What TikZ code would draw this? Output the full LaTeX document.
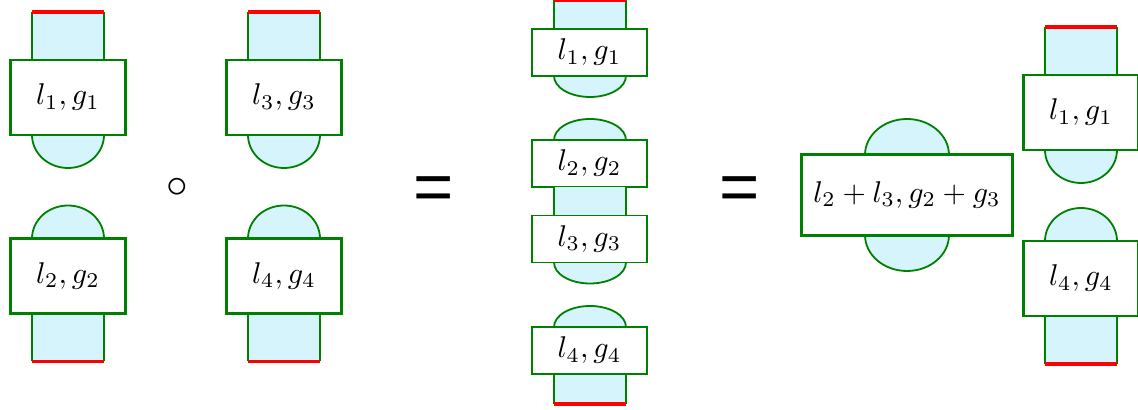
\documentclass[tikz,border=0pt]{standalone}
\usepackage{fontspec}
\newfontfamily\eqfont{Liberation Sans}
\definecolor{boxgreen}{RGB}{0,128,0}
\definecolor{stemcyan}{RGB}{213,244,252}
\def\px{0.3333pt}
% x/y/name/index/side (1: stem below, -1: stem above)
\def\tlist{{68/97.5/b1/1/-1}, {68/276/b2/2/1}, {284/97.5/b3/3/-1}, {284/276/b4/4/1}, {1081/112.5/r1/1/-1}, {1081/278.5/r4/4/1}}
% y/name/index/side/stem length/end colour
\def\mlist{{52.5/m1/1/-1/29/red}, {163.5/m2/2/1/28.5/none}, {239/m3/3/-1/28.5/none}, {350.5/m4/4/1/30/red}}
\tikzstyle{tallbox}=[draw=boxgreen, line width=0.8pt, fill=white, minimum width=38.33pt, minimum height=25pt, inner sep=0pt]
\tikzstyle{midbox}=[tallbox, line width=0.65pt, minimum height=15.67pt]
\tikzstyle{bigbox}=[tallbox, line width=1pt, minimum width=70pt, minimum height=26.67pt]
\tikzstyle{stemfill}=[fill=stemcyan]
\tikzstyle{stemside}=[draw=boxgreen, line width=0.6pt]
\tikzstyle{stemend}=[line width=1.2pt]
\tikzstyle{disc}=[fill=stemcyan, draw=boxgreen, line width=0.6pt]
\tikzstyle{eqsign}=[font=\eqfont\fontsize{23}{28}\selectfont, inner sep=0pt]

\begin{document}
\begin{tikzpicture}[x=\px, y=-\px]
  \useasboundingbox (0,0) rectangle (1138,410);

  \foreach \x/\y/\name/\i/\d in \tlist {
    \begin{scope}[shift={(\x,\y)}, yscale=\d]
      \fill[stemfill] (-36,37.5) rectangle (36,85.5);
      \draw[stemside] (-36,37.5) -- (-36,85.5) (36,37.5) -- (36,85.5);
      \draw[stemend, draw=red] (-36,85.5) -- (36,85.5);
      \filldraw[disc] (-36,-37.5) arc[start angle=180, end angle=360, x radius=36, y radius=33];
    \end{scope}
    \node[tallbox] (\name) at (\x,\y) {$l_{\i},g_{\i}$};
  }

  \foreach \y/\name/\i/\d/\len/\e in \mlist {
    \begin{scope}[shift={(590,\y)}, yscale=\d]
      \fill[stemfill] (-36,23.5) rectangle (36,23.5+\len);
      \draw[stemside] (-36,23.5) -- (-36,23.5+\len) (36,23.5) -- (36,23.5+\len);
      \draw[stemend, draw=\e] (-36,23.5+\len) -- (36,23.5+\len);
      \filldraw[disc] (-36,-23.5) arc[start angle=180, end angle=360, x radius=36, y radius=21];
    \end{scope}
    \node[midbox] (\name) at (589.5,\y) {$l_{\i},g_{\i}$};
  }

  \filldraw[disc] (865,155) arc[start angle=180, end angle=360, x radius=42, y radius=36];
  \filldraw[disc] (865,235) arc[start angle=180, end angle=0, x radius=42, y radius=36];
  \node[bigbox] (sum) at (907,195) {$l_2+l_3,g_2+g_3$};

  \node[font=\Large] (circ) at (177,188) {$\circ$};
  \node[eqsign] (eq1) at (433.5,194) {=};
  \node[eqsign] (eq2) at (739.5,194) {=};
\end{tikzpicture}
\end{document}
